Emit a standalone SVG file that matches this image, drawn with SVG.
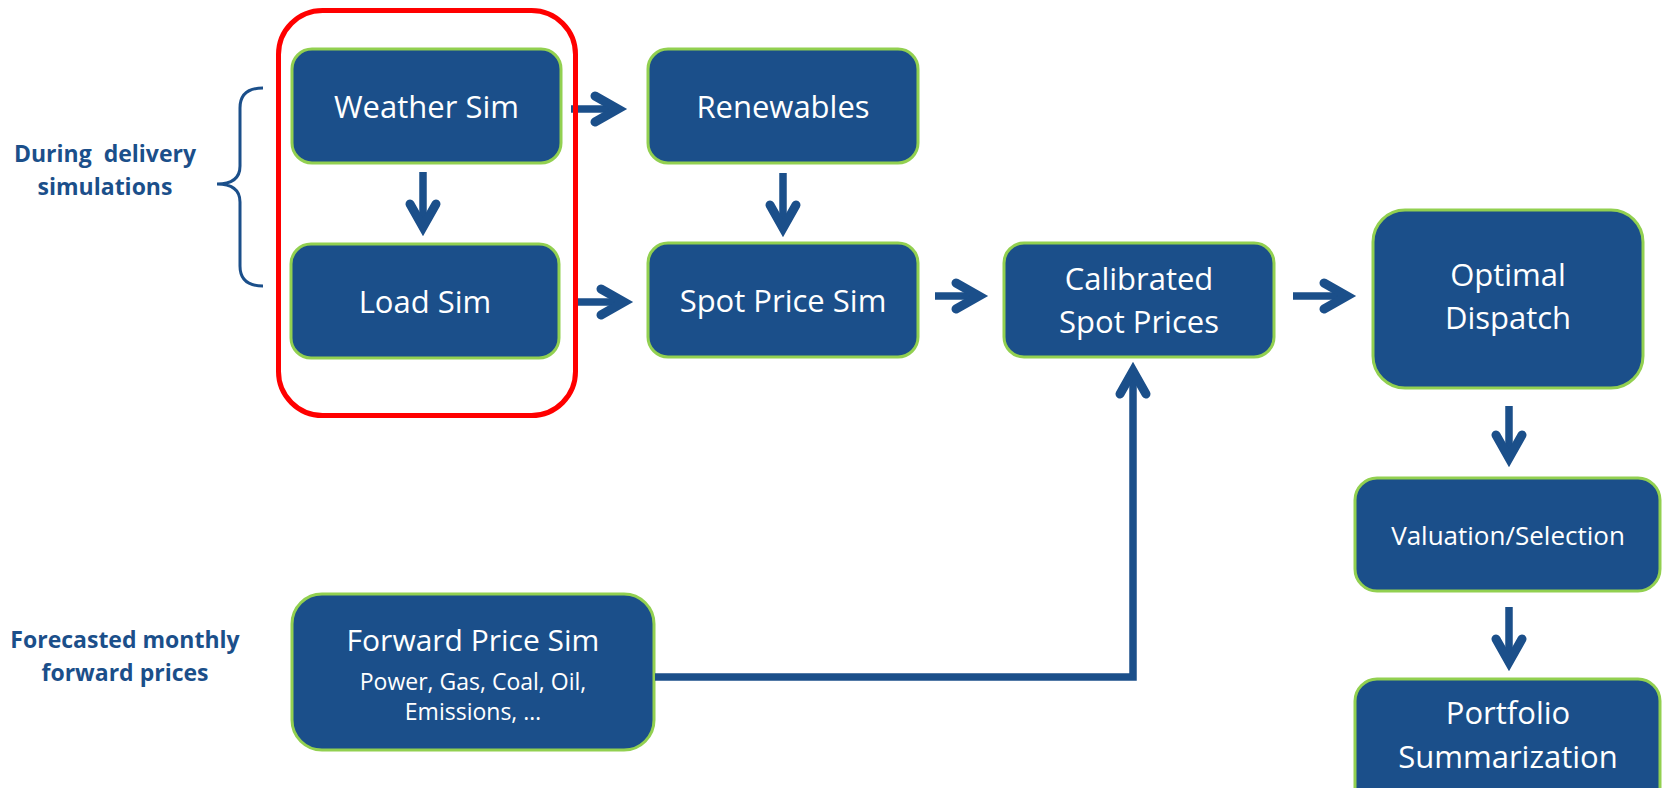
<svg xmlns="http://www.w3.org/2000/svg" width="1663" height="788" viewBox="0 0 1663 788">
<style>
.box{fill:#1B4F8A;stroke:#92D050;stroke-width:3}
.t{font-family:"Open Sans","Noto Sans",sans-serif;fill:#fff;text-anchor:middle;font-size:31px}
.lbl{font-family:"Open Sans","Noto Sans",sans-serif;fill:#1B4F8A;text-anchor:middle;font-size:23px;font-weight:bold;white-space:pre}
.c{fill:none;stroke:#1B4F8A;stroke-width:7.5;stroke-linejoin:miter}
</style>
<defs>
<marker id="ah" markerUnits="userSpaceOnUse" markerWidth="60" markerHeight="60" viewBox="-30 -30 60 60" refX="0" refY="0" orient="auto" overflow="visible">
<path d="M-23,-13 L0,0 L-23,13" fill="none" stroke="#1B4F8A" stroke-width="9" stroke-linecap="round" stroke-linejoin="miter" stroke-miterlimit="10"/>
</marker>
</defs>
<rect width="1663" height="788" fill="#fff"/>

<g id="brace">
<path d="M263,88 C248,88 240,94 240,108 L240,166 C240,178 232,184 217,184 C232,184 240,190 240,202 L240,266 C240,280 248,286 263,286" fill="none" stroke="#1B4F8A" stroke-width="3"/>
</g>

<g id="label-during">
<text class="lbl" x="105" y="162">During  delivery</text>
<text class="lbl" x="105" y="195">simulations</text>
</g>
<g id="label-forecasted">
<text class="lbl" x="125" y="648">Forecasted monthly</text>
<text class="lbl" x="125" y="681">forward prices</text>
</g>

<g id="node-weather">
<rect class="box" x="292" y="49" width="269" height="114" rx="20"/>
<text class="t" x="426.5" y="118">Weather Sim</text>
</g>
<g id="node-load">
<rect class="box" x="291" y="244" width="268" height="114" rx="20"/>
<text class="t" x="425" y="313">Load Sim</text>
</g>
<g id="node-renewables">
<rect class="box" x="648" y="49" width="270" height="114" rx="20"/>
<text class="t" x="783" y="118">Renewables</text>
</g>
<g id="node-spot">
<rect class="box" x="648" y="243" width="270" height="114" rx="20"/>
<text class="t" x="783" y="312">Spot Price Sim</text>
</g>
<g id="node-calibrated">
<rect class="box" x="1004" y="243" width="270" height="114" rx="20"/>
<text class="t" x="1139" y="290">Calibrated</text>
<text class="t" x="1139" y="333">Spot Prices</text>
</g>
<g id="node-optimal">
<rect class="box" x="1373" y="210" width="270" height="178" rx="32"/>
<text class="t" x="1508" y="286">Optimal</text>
<text class="t" x="1508" y="329">Dispatch</text>
</g>
<g id="node-valuation">
<rect class="box" x="1355" y="478" width="305" height="113" rx="22"/>
<text class="t" x="1508" y="545" style="font-size:26px">Valuation/Selection</text>
</g>
<g id="node-portfolio">
<rect class="box" x="1355" y="679" width="305" height="140" rx="22"/>
<text class="t" x="1508" y="724">Portfolio</text>
<text class="t" x="1508" y="768">Summarization</text>
</g>
<g id="node-forward">
<rect class="box" x="292" y="594" width="362" height="156" rx="30"/>
<text class="t" x="473" y="651" style="font-size:30px">Forward Price Sim</text>
<text class="t" x="473" y="690" style="font-size:23px">Power, Gas, Coal, Oil,</text>
<text class="t" x="473" y="720" style="font-size:23px">Emissions, …</text>
</g>

<g id="connectors">
<path class="c" d="M571,109 H618" marker-end="url(#ah)"/>
<path class="c" d="M578,302 H624" marker-end="url(#ah)"/>
<path class="c" d="M423,172 V227" marker-end="url(#ah)"/>
<path class="c" d="M783,173 V228" marker-end="url(#ah)"/>
<path class="c" d="M935,296 H979" marker-end="url(#ah)"/>
<path class="c" d="M1293,296 H1347" marker-end="url(#ah)"/>
<path class="c" d="M1509,406 V458" marker-end="url(#ah)"/>
<path class="c" d="M1509,607 V662" marker-end="url(#ah)"/>
<path class="c" d="M655,677 H1133 V371" marker-end="url(#ah)"/>
</g>

<g id="group-highlight">
<rect x="278.5" y="10.5" width="297" height="405" rx="44" fill="none" stroke="#FF0000" stroke-width="5"/>
</g>
</svg>
